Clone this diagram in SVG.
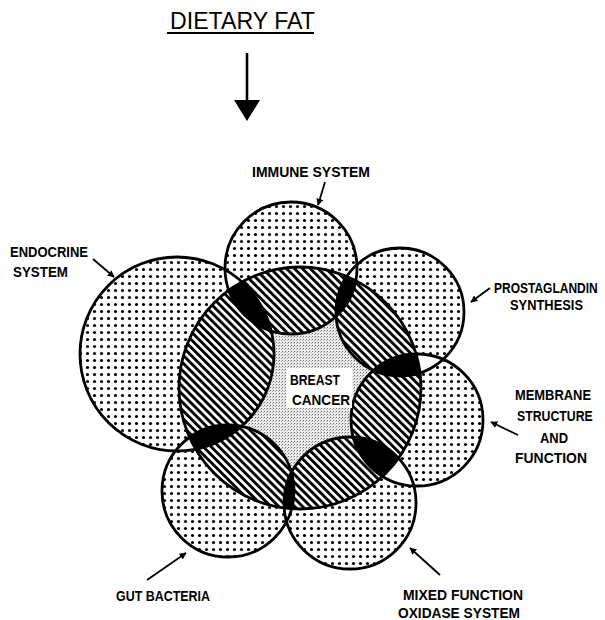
<svg xmlns="http://www.w3.org/2000/svg" width="605" height="620" viewBox="0 0 605 620">
<style>
.lbl{font-family:"Liberation Sans Narrow","Liberation Sans",Arial,sans-serif;font-weight:bold;font-size:15px;fill:#000}
.ttl{font-family:"Liberation Sans Narrow","Liberation Sans",Arial,sans-serif;font-size:23px;fill:#000}
.ol{fill:none;stroke:#000;stroke-width:2.8}
.ptr{stroke:#000;stroke-width:1.8;fill:none;marker-end:url(#ah)}
</style>
<defs>
<pattern id="dots" width="7" height="7" patternUnits="userSpaceOnUse"><rect width="7" height="7" fill="#fff"/><circle cx="3.5" cy="3.5" r="1.55" fill="#000"/></pattern>
<pattern id="hatch" width="5.6" height="5.6" patternUnits="userSpaceOnUse" patternTransform="rotate(-45)"><rect width="5.6" height="5.6" fill="#fff"/><rect width="2.9" height="5.6" fill="#000"/></pattern>
<pattern id="stip" width="3" height="3" patternUnits="userSpaceOnUse"><rect width="3" height="3" fill="#ececec"/><rect width="1" height="1" fill="#666"/><rect x="2" y="1" width="1" height="1" fill="#aaa"/></pattern>
<marker id="ah" viewBox="0 0 10 10" refX="9" refY="5" markerWidth="7" markerHeight="7" markerUnits="userSpaceOnUse" orient="auto"><path d="M0,0 L10,5 L0,10 z" fill="#000"/></marker>
<clipPath id="cC"><circle cx="300" cy="388" r="121"/></clipPath>
<clipPath id="cI"><circle cx="291" cy="268" r="66"/></clipPath>
<clipPath id="cE"><circle cx="177" cy="354" r="97"/></clipPath>
<clipPath id="cP"><circle cx="400" cy="312" r="64"/></clipPath>
<clipPath id="cM"><circle cx="417" cy="420" r="66"/></clipPath>
<clipPath id="cX"><circle cx="350" cy="503" r="66"/></clipPath>
<clipPath id="cG"><circle cx="228" cy="491" r="66"/></clipPath>
</defs>

<g id="regions">
<g fill="url(#dots)">
<circle cx="291" cy="268" r="66"/>
<circle cx="177" cy="354" r="97"/>
<circle cx="400" cy="312" r="64"/>
<circle cx="417" cy="420" r="66"/>
<circle cx="350" cy="503" r="66"/>
<circle cx="228" cy="491" r="66"/>
</g>
<g fill="#fff">
<circle cx="291" cy="268" r="66" clip-path="url(#cE)"/>
<circle cx="291" cy="268" r="66" clip-path="url(#cP)"/>
<circle cx="400" cy="312" r="64" clip-path="url(#cM)"/>
<circle cx="417" cy="420" r="66" clip-path="url(#cX)"/>
<circle cx="350" cy="503" r="66" clip-path="url(#cG)"/>
<circle cx="228" cy="491" r="66" clip-path="url(#cE)"/>
</g>
<circle cx="300" cy="388" r="121" fill="url(#stip)"/>
<g clip-path="url(#cC)" fill="url(#hatch)">
<circle cx="291" cy="268" r="66"/>
<circle cx="177" cy="354" r="97"/>
<circle cx="400" cy="312" r="64"/>
<circle cx="417" cy="420" r="66"/>
<circle cx="350" cy="503" r="66"/>
<circle cx="228" cy="491" r="66"/>
</g>
<g clip-path="url(#cC)" fill="#000">
<circle cx="291" cy="268" r="66" clip-path="url(#cE)"/>
<circle cx="291" cy="268" r="66" clip-path="url(#cP)"/>
<circle cx="400" cy="312" r="64" clip-path="url(#cM)"/>
<circle cx="417" cy="420" r="66" clip-path="url(#cX)"/>
<circle cx="350" cy="503" r="66" clip-path="url(#cG)"/>
<circle cx="228" cy="491" r="66" clip-path="url(#cE)"/>
</g>
</g>

<g id="node-dietary-fat">
<text class="ttl" x="170" y="29" textLength="145" lengthAdjust="spacingAndGlyphs">DIETARY  FAT</text>
<line x1="167" y1="33" x2="314" y2="33" stroke="#000" stroke-width="1.8"/>
</g>

<g id="node-immune-system">
<circle class="ol" cx="291" cy="268" r="66"/>
<text class="lbl" x="252" y="177" textLength="118" lengthAdjust="spacingAndGlyphs">IMMUNE SYSTEM</text>
</g>

<g id="node-endocrine-system">
<circle class="ol" cx="177" cy="354" r="97"/>
<text class="lbl" x="10" y="257" textLength="78" lengthAdjust="spacingAndGlyphs">ENDOCRINE</text>
<text class="lbl" x="13" y="277" textLength="55" lengthAdjust="spacingAndGlyphs">SYSTEM</text>
</g>

<g id="node-prostaglandin-synthesis">
<circle class="ol" cx="400" cy="312" r="64"/>
<text class="lbl" transform="translate(494,293) scale(0.8,1)">PROSTAGLANDIN</text>
<text class="lbl" x="510" y="310" textLength="73" lengthAdjust="spacingAndGlyphs">SYNTHESIS</text>
</g>

<g id="node-membrane">
<circle class="ol" cx="417" cy="420" r="66"/>
<text class="lbl" x="515" y="400" textLength="76" lengthAdjust="spacingAndGlyphs">MEMBRANE</text>
<text class="lbl" transform="translate(517,421) scale(0.82,1)">STRUCTURE</text>
<text class="lbl" x="540" y="443" textLength="28" lengthAdjust="spacingAndGlyphs">AND</text>
<text class="lbl" x="515" y="463" textLength="72" lengthAdjust="spacingAndGlyphs">FUNCTION</text>
</g>

<g id="node-mixed-function">
<circle class="ol" cx="350" cy="503" r="66"/>
<text class="lbl" x="403" y="600" textLength="120" lengthAdjust="spacingAndGlyphs">MIXED FUNCTION</text>
<text class="lbl" x="398" y="618" textLength="122" lengthAdjust="spacingAndGlyphs">OXIDASE SYSTEM</text>
</g>

<g id="node-gut-bacteria">
<circle class="ol" cx="228" cy="491" r="66"/>
<text class="lbl" x="116" y="601" textLength="94" lengthAdjust="spacingAndGlyphs">GUT BACTERIA</text>
</g>

<g id="node-breast-cancer">
<circle class="ol" cx="300" cy="388" r="121"/>
<rect x="286" y="368" width="66" height="40" fill="#fff"/>
<text class="lbl" x="290" y="385" textLength="50" lengthAdjust="spacingAndGlyphs">BREAST</text>
<text class="lbl" x="292" y="405" textLength="58" lengthAdjust="spacingAndGlyphs">CANCER</text>
</g>

<g id="connectors">
<line x1="247" y1="53" x2="247" y2="101" stroke="#000" stroke-width="2.6"/>
<path d="M234,100 L260,100 L247,121 z" fill="#000"/>
<line class="ptr" x1="325" y1="182" x2="318" y2="205"/>
<line class="ptr" x1="93" y1="259" x2="114" y2="277"/>
<line class="ptr" x1="490" y1="288" x2="471" y2="302"/>
<line class="ptr" x1="518" y1="435" x2="491" y2="422"/>
<line class="ptr" x1="147" y1="580" x2="186" y2="553"/>
<line class="ptr" x1="440" y1="575" x2="410" y2="548"/>
</g>
</svg>
